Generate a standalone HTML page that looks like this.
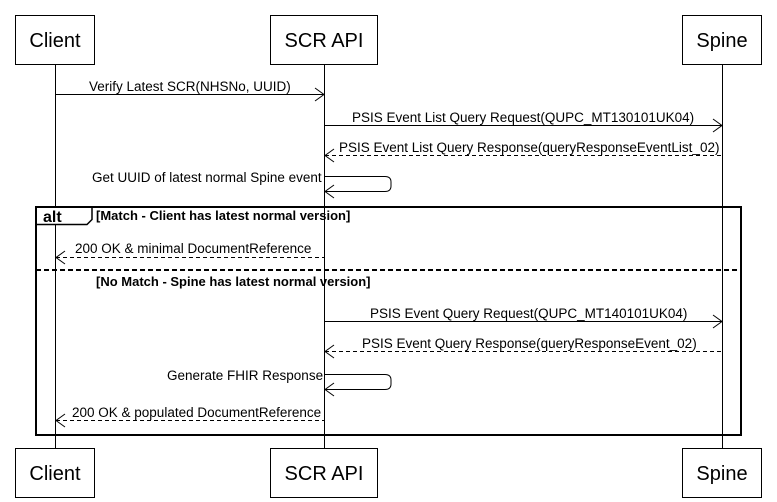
<!DOCTYPE html>
<html><head><style>body{margin:0;background:#fff}svg{display:block}text{font-family:"Liberation Sans",Arial,sans-serif;fill:#000}</style></head>
<body>
<svg width="777" height="502" viewBox="0 0 777 502" xmlns="http://www.w3.org/2000/svg">
<g stroke="#000" fill="none" stroke-width="1">
<line x1="55.5" y1="64" x2="55.5" y2="448"/>
<line x1="324.5" y1="64" x2="324.5" y2="448"/>
<line x1="722.5" y1="64" x2="722.5" y2="448"/>
<rect x="15.5" y="15.5" width="79" height="49" fill="#fff"/>
<rect x="270.5" y="15.5" width="107" height="49" fill="#fff"/>
<rect x="682.5" y="15.5" width="79" height="49" fill="#fff"/>
<rect x="15.5" y="448.5" width="79" height="49" fill="#fff"/>
<rect x="270.5" y="448.5" width="107" height="49" fill="#fff"/>
<rect x="682.5" y="448.5" width="79" height="49" fill="#fff"/>
<line x1="55.5" y1="94.5" x2="324" y2="94.5"/><polyline points="315,88 324,94.5 315,101"/>
<line x1="324.5" y1="125.5" x2="722" y2="125.5"/><polyline points="713,119 722,125.5 713,132"/>
<line x1="325" y1="155.5" x2="722" y2="155.5" stroke-dasharray="4,3"/><polyline points="334,149 325,155.5 334,162"/>
<path d="M324.5 176.5 H385 Q391 176.5 391 182 V186 Q391 191.5 385 191.5 H325"/><polyline points="334,185 325,191.5 334,198"/>
<line x1="56" y1="257.5" x2="324" y2="257.5" stroke-dasharray="4,3"/><polyline points="65,251 56,257.5 65,264"/>
<line x1="324.5" y1="321.5" x2="722" y2="321.5"/><polyline points="713,315 722,321.5 713,328"/>
<line x1="325" y1="351.5" x2="722" y2="351.5" stroke-dasharray="4,3"/><polyline points="334,345 325,351.5 334,358"/>
<path d="M324.5 374.5 H385 Q391 374.5 391 380 V384 Q391 389.5 385 389.5 H325"/><polyline points="334,383 325,389.5 334,396"/>
<line x1="56" y1="420.5" x2="324" y2="420.5" stroke-dasharray="4,3"/><polyline points="65,414 56,420.5 65,427"/>
<path d="M36 207 V224.5 H87 L92 219.5 V207 Z" fill="#fff" stroke="none"/>
<rect x="36" y="207" width="705" height="228" stroke-width="2"/>
<path d="M36 224.5 H87 L92 219.5 V207" stroke-width="1.5"/>
<line x1="36" y1="270" x2="741" y2="270" stroke-width="2" stroke-dasharray="5,3"/>
</g>
<g font-size="20" text-anchor="middle">
<text x="55" y="47">Client</text><text x="324" y="47">SCR API</text><text x="722" y="47">Spine</text>
<text x="55" y="480">Client</text><text x="324" y="480">SCR API</text><text x="722" y="480">Spine</text>
</g>
<g font-size="13.5">
<text x="89" y="91">Verify Latest SCR(NHSNo, UUID)</text>
<text x="352" y="122">PSIS Event List Query Request(QUPC_MT130101UK04)</text>
<text x="339" y="152">PSIS Event List Query Response(queryResponseEventList_02)</text>
<text x="92" y="182">Get UUID of latest normal Spine event</text>
<text x="75" y="253">200 OK &amp; minimal DocumentReference</text>
<text x="370" y="318">PSIS Event Query Request(QUPC_MT140101UK04)</text>
<text x="362" y="348">PSIS Event Query Response(queryResponseEvent_02)</text>
<text x="167" y="380">Generate FHIR Response</text>
<text x="72" y="417">200 OK &amp; populated DocumentReference</text>
<text x="96" y="220" font-weight="bold" font-size="13">[Match - Client has latest normal version]</text>
<text x="96" y="286" font-weight="bold" font-size="13">[No Match - Spine has latest normal version]</text>
<text x="43" y="222" font-weight="bold" font-size="16">alt</text>
</g>
</svg>
</body></html>
